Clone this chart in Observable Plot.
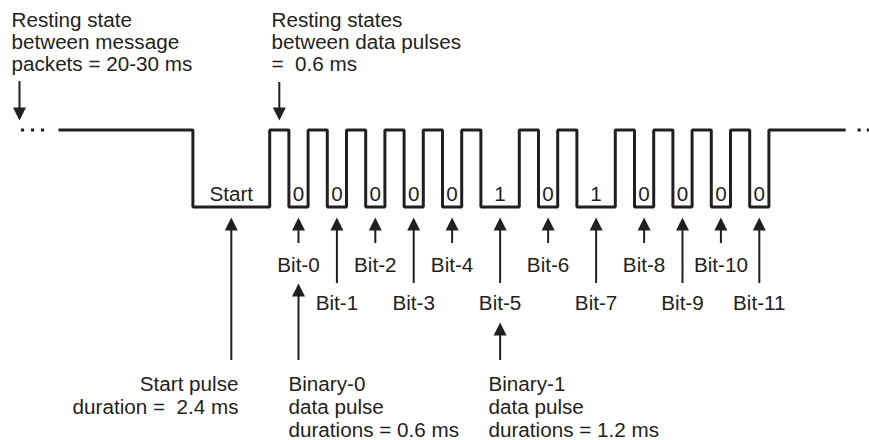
<!DOCTYPE html>
<html><head><meta charset="utf-8">
<script src="https://cdn.jsdelivr.net/npm/d3@7"></script>
<script src="https://cdn.jsdelivr.net/npm/@observablehq/plot@0.6"></script>
<style>body{margin:0;background:#fff}</style>
</head><body><div id="chart"></div>
<script>
// ---- data ----
const bits = [0, 0, 0, 0, 0, 1, 0, 1, 0, 0, 0, 0];
const bitLabels = ["Bit-0","Bit-1","Bit-2","Bit-3","Bit-4","Bit-5","Bit-6","Bit-7","Bit-8","Bit-9","Bit-10","Bit-11"];
const bitDigits = ["0","0","0","0","0","1","0","1","0","0","0","0"];
const leadRestMs = 4.2;     // visible part of the resting state before the packet
const startPulseMs = 2.4;
const restMs = 0.6;
const zeroPulseMs = 0.6;
const onePulseMs = 1.2;
const tailRestMs = 2.4;     // visible part of the resting state after the packet
const startLabel = "Start";
const noteGap = ["Resting state", "between message", "packets = 20-30 ms"];
const noteRest = ["Resting states", "between data pulses", "=  0.6 ms"];
const noteStart = ["Start pulse", "duration =  2.4 ms"];
const noteZero = ["Binary-0", "data pulse", "durations = 0.6 ms"];
const noteOne = ["Binary-1", "data pulse", "durations = 1.2 ms"];

// ---- waveform built from the bit durations ----
const wave = [];
let t = 0;
wave.push({t, v: 1}); t += leadRestMs;
wave.push({t, v: 0});
const startCenter = t + startPulseMs / 2;
t += startPulseMs;
const bitInfo = [];
bits.forEach((b, i) => {
  wave.push({t, v: 1});
  const restCenter = t + restMs / 2;
  t += restMs;
  const d = b ? onePulseMs : zeroPulseMs;
  wave.push({t, v: 0});
  bitInfo.push({i, b, center: t + d / 2, restCenter, label: bitLabels[i], digit: bitDigits[i]});
  t += d;
});
wave.push({t, v: 1}); t += tailRestMs;
wave.push({t, v: 1});
const endT = t;

// ---- layout ----
const X0 = 58, PX_PER_MS = 32, HIGH_Y = 129.5, LOW_Y = 206.5;
const lvl = px => (LOW_Y - px) / (LOW_Y - HIGH_Y);
const ms = px => (px - X0) / PX_PER_MS;
const ink = "#231f20";
const FS = 19.5;
const font = "'Liberation Sans', Arial, Helvetica, sans-serif";

const firstZero = bitInfo.find(d => d.b === 0);
const firstOne = bitInfo.find(d => d.b === 1);
const arrows = [
  {x: ms(19), tail: 81, tip: 120, dir: "down"},
  {x: bitInfo[0].restCenter, tail: 82, tip: 120, dir: "down"},
  {x: startCenter, tail: 360, tip: 217, dir: "up"},
  ...bitInfo.map(d => ({x: d.center, tail: d.i % 2 ? 283 : 243, tip: 217, dir: "up"})),
  {x: firstZero.center, tail: 360, tip: 283, dir: "up"},
  {x: firstOne.center, tail: 360, tip: 322, dir: "up"}
];
const dotsL = [ms(22), ms(32), ms(42)];
const dotsR = [endT + 0.42, endT + 0.71, endT + 1.0];

const headSym = {draw(ctx) { ctx.moveTo(0, 0); ctx.lineTo(-6.5, 13); ctx.lineTo(6.5, 13); ctx.closePath(); }};
const sqSym = {draw(ctx) { ctx.rect(-1.6, -1.5, 3.2, 3); }};

const txt = (data, opts) => Plot.text(data, {fill: ink, fontSize: FS, fontFamily: font, ...opts});

const svg = Plot.plot({
  width: 869, height: 440, margin: 0,
  x: {type: "linear", domain: [0, 1], range: [X0, X0 + PX_PER_MS], axis: null},
  y: {type: "linear", domain: [0, 1], range: [LOW_Y, HIGH_Y], axis: null},
  style: {background: "#fff", fontFamily: font, color: ink},
  marks: [
    Plot.line(wave, {x: "t", y: "v", curve: "step-after", stroke: ink, strokeWidth: 3, strokeLinejoin: "miter", strokeLinecap: "butt"}),
    Plot.dot([...dotsL, ...dotsR], {x: d => d, y: () => 1, symbol: sqSym, fill: ink, stroke: "none", r: 2}),
    Plot.ruleX(arrows, {x: "x", y1: d => lvl(d.tail), y2: d => lvl(d.dir === "up" ? d.tip + 10 : d.tip - 10), stroke: ink, strokeWidth: 2}),
    Plot.dot(arrows, {x: "x", y: d => lvl(d.tip), symbol: headSym, rotate: d => d.dir === "down" ? 180 : 0, fill: ink, stroke: "none", r: 4}),
    txt([noteGap.join("\n")], {text: d => d, x: () => ms(11), y: () => lvl(70), textAnchor: "start", lineAnchor: "bottom", lineHeight: 22 / FS}),
    txt([noteRest.join("\n")], {text: d => d, x: () => ms(271), y: () => lvl(70), textAnchor: "start", lineAnchor: "bottom", lineHeight: 22 / FS}),
    txt([startLabel], {text: d => d, x: () => startCenter, y: () => lvl(200), lineAnchor: "bottom"}),
    txt(bitInfo, {text: "digit", x: "center", y: () => lvl(200), lineAnchor: "bottom"}),
    txt(bitInfo, {text: "label", x: "center", y: d => lvl(d.i % 2 ? 309 : 271), lineAnchor: "bottom"}),
    txt([noteStart.join("\n")], {text: d => d, x: () => ms(238), y: () => lvl(413), textAnchor: "end", lineAnchor: "bottom", lineHeight: 23 / FS}),
    txt([noteZero.join("\n")], {text: d => d, x: () => ms(288), y: () => lvl(436), textAnchor: "start", lineAnchor: "bottom", lineHeight: 23 / FS}),
    txt([noteOne.join("\n")], {text: d => d, x: () => ms(488), y: () => lvl(436), textAnchor: "start", lineAnchor: "bottom", lineHeight: 23 / FS})
  ]
});
svg.querySelectorAll("text").forEach(el => {
  const tr = el.getAttribute("transform");
  if (tr && tr.includes("translate")) el.setAttribute("transform", tr + " scale(1.06,1)");
});
document.getElementById("chart").appendChild(svg);
</script>
</body></html>
